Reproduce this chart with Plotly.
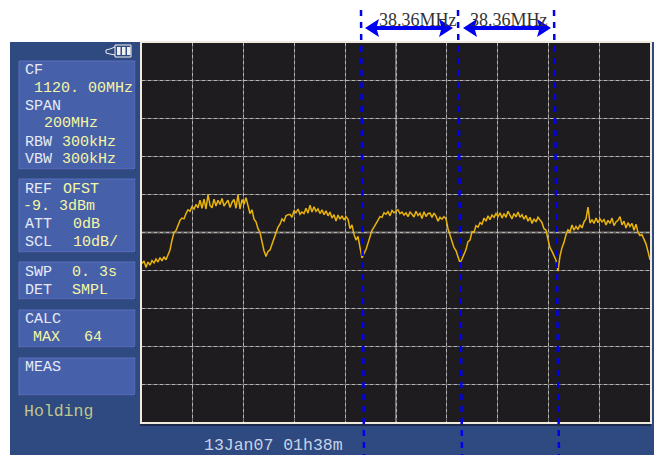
import numpy as np
import plotly.graph_objects as go

W, H = 654, 455
# Trace (dBm, relative to a 0 dB top of screen)
TRACE_DB = [
    -58.2,-57.5,-59.2,-57.8,-58.6,-57.4,-58.0,-57.0,-57.8,-56.6,-57.5,-56.4,-57.2,-56.0,
    -54.6,-52.0,-50.0,-49.5,-48.0,-46.8,-46.2,-46.4,-45.0,-44.0,-44.4,-43.2,
    -43.8,-42.6,-43.5,-41.5,-43.6,-41.2,-43.8,-40.0,-42.8,-43.5,-41.2,-43.0,-41.5,-42.6,-41.0,-43.0,-42.2,-41.5,-43.4,-42.0,-41.3,-43.6,-40.0,-43.8,-41.3,-42.6,-40.8,
    -43.2,-45.0,-44.0,-46.5,-47.2,-49.0,-50.0,-52.6,-54.8,-56.3,-55.0,-54.6,-53.0,-52.0,-50.0,-48.6,-47.8,-46.4,-47.0,-45.6,-45.3,-45.2,
    -46.0,-44.2,-44.8,-43.8,-45.2,-44.6,-45.0,-43.6,-44.9,-42.8,-44.6,-43.2,-44.4,-43.8,-45.0,-44.0,-45.3,-44.3,-45.6,-44.6,-46.2,-45.3,-47.0,-45.4,-46.5,-45.6,-46.7,-45.8,
    -46.5,-49.0,-48.0,-50.5,-52.0,-51.0,-54.0,-56.7,-55.5,-54.5,-52.8,-51.2,-49.4,-48.6,-47.6,-46.8,-45.8,-46.0,-44.8,-45.2,-44.5,-45.6,-44.2,-44.8,-44.4,
    -44.0,-45.0,-44.6,-45.4,-44.8,-45.8,-44.6,-45.2,-45.9,-44.4,-45.5,-44.9,-46.3,-44.5,-45.8,-45.0,-44.9,-46.0,-44.9,-45.7,-47.0,-46.0,-46.5,-45.8,-46.4,
    -49.0,-50.7,-51.8,-54.0,-54.8,-56.5,-58.0,-57.0,-55.8,-54.5,-52.4,-52.0,-49.8,-49.9,-48.2,-48.6,-47.4,-47.8,-46.2,-47.0,-45.6,-46.6,-45.4,-46.0,-45.0,
    -45.8,-44.8,-46.2,-45.0,-46.0,-44.4,-45.5,-46.4,-45.0,-45.9,-44.6,-46.0,-45.3,-46.5,-45.5,-47.0,-46.0,-47.6,-46.4,-47.2,-46.0,-46.8,-47.4,-49.0,-49.4,
    -51.8,-54.0,-55.0,-56.4,-57.3,-60.2,-56.2,-54.0,-52.6,-50.6,-49.3,-49.8,-48.0,-49.4,-48.4,-49.2,-48.0,-48.8,-47.2,-46.4,-43.3,-47.5,-46.6,-47.6,-46.2,-47.4,-46.4,
    -47.2,-46.6,-48.0,-46.8,-47.6,-46.2,-48.2,-47.2,-46.8,-45.8,-48.0,-47.0,-48.8,-47.4,-48.4,-47.6,-49.4,-47.8,-50.0,-50.8,-50.6,-52.0,-53.0,-55.0,-57.2,
]
CF_MHZ = 1120.0
SPAN_MHZ = 200.0
DB_TOP, DB_BOTTOM = 0, -100

WHITE = "#e6eaf8"
YELLOW = "#f6f6a4"
PANEL_LABELS = [
    ("CF", 23, 70, WHITE), ("1120. 00MHz", 32, 89, YELLOW),
    ("SPAN", 23, 106, WHITE), ("200MHz", 42, 124, YELLOW),
    ("RBW", 23, 142, WHITE), ("300kHz", 60, 142, YELLOW),
    ("VBW", 23, 159, WHITE), ("300kHz", 60, 159, YELLOW),
    ("REF", 23, 189, WHITE), ("OFST", 61, 189, YELLOW),
    ("-9. 3dBm", 21, 207, YELLOW),
    ("ATT", 23, 224, WHITE), ("0dB", 71, 224, YELLOW),
    ("SCL", 23, 242, WHITE), ("10dB/", 71, 242, YELLOW),
    ("SWP", 23, 272, WHITE), ("0. 3s", 70, 272, YELLOW),
    ("DET", 23, 290, WHITE), ("SMPL", 70, 290, YELLOW),
    ("CALC", 23, 319, WHITE), ("MAX", 31, 337, YELLOW), ("64", 82, 337, YELLOW),
    ("MEAS", 23, 367, WHITE),
]
BOXES = [(19, 61, 135, 169), (19, 179, 135, 252), (19, 262, 135, 299),
         (19, 310, 135, 347), (19, 358, 135, 395)]
MARKER_LINES = [(361, 364), (458, 462), (554, 559)]
SPACING_LABEL = "38.36MHz"
ARROWS = [(365, 453, 377), (463, 551, 468)]


def px(x):
    return x / W


def py(y):
    return 1 - y / H


def rect(x0, y0, x1, y1, fill, line=None, lw=0, layer="below"):
    return dict(type="rect", xref="paper", yref="paper", x0=px(x0), x1=px(x1), y0=py(y0), y1=py(y1),
                fillcolor=fill, line=dict(color=line or fill, width=lw), layer=layer)


def double_arrow(x0, x1, yc=28, head=14, half=9, shaft=2):
    pts = [(x0, yc), (x0 + head, yc - half), (x0 + head - 2, yc - shaft), (x1 - head + 2, yc - shaft),
           (x1 - head, yc - half), (x1, yc), (x1 - head, yc + half), (x1 - head + 2, yc + shaft),
           (x0 + head - 2, yc + shaft), (x0 + head, yc + half)]
    path = "M " + " L ".join(f"{px(a)} {py(b)}" for a, b in pts) + " Z"
    return dict(type="path", xref="paper", yref="paper", path=path, fillcolor="#0000f0",
                line=dict(width=0), layer="below")


freq = np.linspace(CF_MHZ - SPAN_MHZ / 2, CF_MHZ + SPAN_MHZ / 2, len(TRACE_DB))
fig = go.Figure()
fig.add_trace(go.Scatter(x=[CF_MHZ], y=[-50], xaxis="x2", yaxis="y2", mode="markers",
                         marker=dict(opacity=0), hoverinfo="skip", showlegend=False))
fig.add_trace(go.Scatter(x=freq, y=TRACE_DB, mode="lines", line=dict(color="#e8b40c", width=1.5),
                         hoverinfo="skip", showlegend=False))

shapes = [rect(10, 42, 654, 455, "#2e4a80"),
          rect(140, 42, 651, 426, "#1d2a4a"),
          rect(142, 43, 650, 422, "#1f1c1f")]
for b in BOXES:
    shapes.append(rect(b[0] + 1, b[1] + 1, b[2] + 1, b[3] + 1, "#1f2d55"))
    shapes.append(rect(*b, "#4661a9", line="#5a6fc0", lw=1))
# battery icon
shapes.append(rect(115, 45, 131, 57, "#2e4a80", line="#f0f0f0", lw=1))
shapes.append(dict(type="path", xref="paper", yref="paper", layer="below",
                   path=f"M {px(115)} {py(47)} L {px(110)} {py(49)} L {px(106)} {py(50)} L {px(106)} {py(53)} L {px(110)} {py(54)} L {px(115)} {py(55)}",
                   line=dict(color="#f0f0f0", width=1)))
for x in (117, 122, 127):
    shapes.append(rect(x, 47, x + 3.5, 55, "#f0f0f0"))
# centre cross
shapes.append(dict(type="line", xref="x", yref="paper", x0=CF_MHZ, x1=CF_MHZ, y0=py(422), y1=py(43),
                   line=dict(color="#cfcabb", width=1), layer="between"))
shapes.append(dict(type="line", xref="paper", yref="y", x0=px(142), x1=px(650), y0=-50, y1=-50,
                   line=dict(color="#cfcabb", width=1.5), layer="between"))
# dashed markers
for top, bot in MARKER_LINES:
    shapes.append(dict(type="line", xref="paper", yref="paper", x0=px(top), x1=px(bot), y0=py(10), y1=py(455),
                       line=dict(color="#0000ee", width=2.5, dash="6px,6px"), layer="above"))
for x0, x1, _ in ARROWS:
    shapes.append(double_arrow(x0, x1))

annotations = []
for text, x, y, color in PANEL_LABELS:
    annotations.append(dict(text=text, x=px(x), y=py(y), xref="paper", yref="paper", xanchor="left", yanchor="middle",
                            showarrow=False, font=dict(family="Liberation Mono", size=15, color=color)))
annotations.append(dict(text="Holding", x=px(22), y=py(411), xref="paper", yref="paper", xanchor="left", yanchor="middle",
                        showarrow=False, font=dict(family="Liberation Mono", size=16.5, color="#c0c68c")))
annotations.append(dict(text="13Jan07 01h38m", x=px(203), y=py(456), xref="paper", yref="paper", xanchor="left", yanchor="bottom",
                        borderpad=0, showarrow=False, font=dict(family="Liberation Mono", size=16.5, color="#c9d2e8")))
for _, _, tx in ARROWS:
    annotations.append(dict(text=SPACING_LABEL, x=px(tx), y=py(20), xref="paper", yref="paper", xanchor="left", yanchor="middle",
                            showarrow=False, font=dict(family="Liberation Serif", size=18, color="#333333")))

dom_x = [px(142), px(650)]
dom_y = [py(422), py(43)]
fig.update_layout(
    width=W, height=H, margin=dict(l=0, r=0, t=0, b=0), paper_bgcolor="white", plot_bgcolor="#1f1c1f",
    showlegend=False, shapes=shapes, annotations=annotations,
    xaxis=dict(domain=dom_x, range=[CF_MHZ - SPAN_MHZ / 2, CF_MHZ + SPAN_MHZ / 2], tick0=1020, dtick=20,
               showgrid=True, gridcolor="#6e6e6e", gridwidth=1, showticklabels=False, ticks="", zeroline=False,
               showline=True, linecolor="#efeadb", linewidth=2, mirror=True),
    yaxis=dict(domain=dom_y, range=[DB_BOTTOM, DB_TOP], tick0=0, dtick=10,
               showgrid=True, gridcolor="#6e6e6e", gridwidth=1, showticklabels=False, ticks="", zeroline=False,
               showline=True, linecolor="#efeadb", linewidth=2, mirror=True),
    xaxis2=dict(overlaying="x", matches="x", tick0=1020, dtick=20, showgrid=True, gridcolor="#b4b4b4", gridwidth=1,
                griddash="dot", showticklabels=False, ticks="", zeroline=False),
    yaxis2=dict(overlaying="y", matches="y", tick0=0, dtick=10, showgrid=True, gridcolor="#b4b4b4", gridwidth=1,
                griddash="dot", showticklabels=False, ticks="", zeroline=False),
)
fig.write_html("out.html", post_script="document.body.style.margin='0';", config={"displayModeBar": False})
